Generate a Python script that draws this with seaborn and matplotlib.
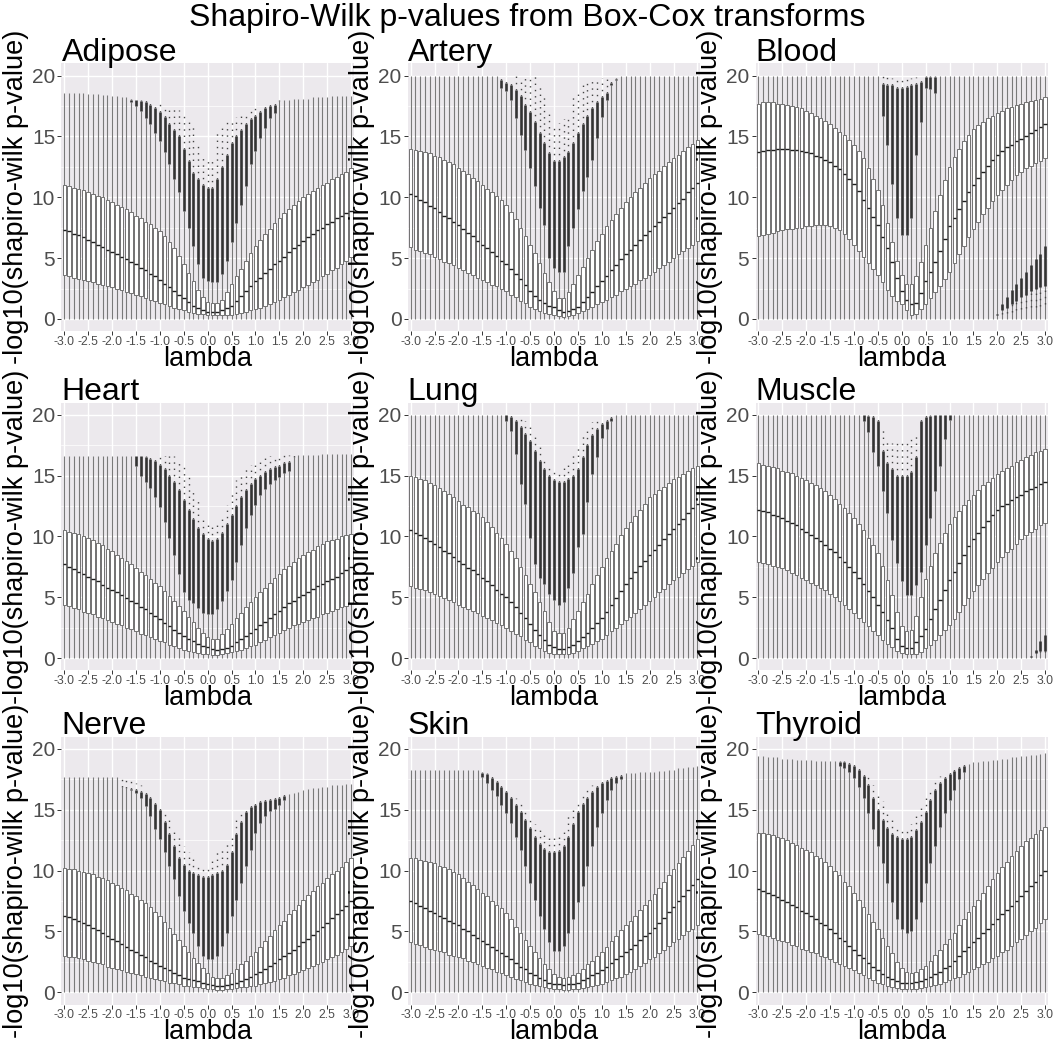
import numpy as np
import pandas as pd
import matplotlib
matplotlib.use("Agg")
import matplotlib.pyplot as plt
import seaborn as sns

# ---------------------------------------------------------------------------
# Box-Cox lambda grid and labelled breaks
# ---------------------------------------------------------------------------
LAMBDAS = ["-3.0", "-2.9", "-2.8", "-2.7", "-2.6", "-2.5", "-2.4", "-2.3", "-2.2", "-2.1",
           "-2.0", "-1.9", "-1.8", "-1.7", "-1.6", "-1.5", "-1.4", "-1.3", "-1.2", "-1.1",
           "-1.0", "-0.9", "-0.8", "-0.7", "-0.6", "-0.5", "-0.4", "-0.3", "-0.2", "-0.1",
           "0.0", "0.1", "0.2", "0.3", "0.4", "0.5", "0.6", "0.7", "0.8", "0.9",
           "1.0", "1.1", "1.2", "1.3", "1.4", "1.5", "1.6", "1.7", "1.8", "1.9",
           "2.0", "2.1", "2.2", "2.3", "2.4", "2.5", "2.6", "2.7", "2.8", "2.9", "3.0"]
TICK_LABELS = ["-3.0", "-2.5", "-2.0", "-1.5", "-1.0", "-0.5", "0.0",
               "0.5", "1.0", "1.5", "2.0", "2.5", "3.0"]
TISSUES = ["Adipose", "Artery", "Blood", "Heart", "Lung", "Muscle", "Nerve", "Skin", "Thyroid"]

# ---------------------------------------------------------------------------
# Per-tissue summaries of -log10(Shapiro-Wilk p) at each lambda
#   Q1 / MED / Q3 : box hinges and median
#   TOP           : largest value (whisker end, or highest outlier)
#   OUT_*         : upper outlier run (start lambda, lowest outlier, top of dense run)
#   LOW_*         : lower outlier run (start lambda, min, start of dense run, max)
# ---------------------------------------------------------------------------
ADIPOSE_Q1 = [3.6, 3.5, 3.4, 3.3, 3.2, 3.1, 3.0, 2.9, 2.8, 2.7, 2.6,
              2.5, 2.4, 2.2, 2.1, 2.0, 1.9, 1.7, 1.6, 1.5, 1.3,
              1.2, 1.1, 0.9, 0.8, 0.7, 0.6, 0.5, 0.45, 0.4, 0.35,
              0.3, 0.3, 0.3, 0.35, 0.35, 0.4, 0.5, 0.6, 0.7, 0.8,
              0.9, 1.1, 1.2, 1.4, 1.6, 1.8, 2.0, 2.2, 2.4, 2.6,
              2.8, 3.0, 3.2, 3.5, 3.7, 4.0, 4.2, 4.5, 4.8, 5.1]
ADIPOSE_MED = [7.3, 7.2, 7.0, 6.9, 6.7, 6.5, 6.3, 6.1, 5.9, 5.7, 5.5,
               5.3, 5.1, 4.9, 4.7, 4.5, 4.2, 4.0, 3.7, 3.5, 3.2,
               2.9, 2.6, 2.3, 2.0, 1.7, 1.4, 1.1, 0.9, 0.7, 0.6,
               0.55, 0.55, 0.7, 0.9, 1.1, 1.5, 1.9, 2.3, 2.7, 3.1,
               3.4, 3.8, 4.1, 4.5, 4.8, 5.1, 5.5, 5.8, 6.1, 6.4,
               6.7, 7.0, 7.3, 7.5, 7.8, 8.0, 8.3, 8.5, 8.7, 8.9]
ADIPOSE_Q3 = [11.0, 10.9, 10.8, 10.7, 10.6, 10.4, 10.3, 10.1, 10.0, 9.8, 9.6,
              9.4, 9.2, 9.0, 8.8, 8.5, 8.3, 8.0, 7.8, 7.5, 7.2,
              6.8, 6.3, 5.8, 5.2, 4.5, 3.8, 3.1, 2.4, 1.8, 1.4,
              1.3, 1.3, 1.6, 2.2, 2.9, 3.5, 4.1, 4.8, 5.4, 6.0,
              6.5, 7.0, 7.4, 7.9, 8.3, 8.7, 9.0, 9.4, 9.7, 10.0,
              10.3, 10.5, 10.8, 11.0, 11.2, 11.5, 11.7, 11.9, 12.1, 12.4]
ADIPOSE_TOP = [18.6, 18.6, 18.6, 18.6, 18.6, 18.5, 18.5, 18.5, 18.4, 18.4, 18.3,
               18.3, 18.2, 18.2, 18.1, 18.0, 18.0, 18.0, 17.9, 17.8, 17.7,
               17.6, 17.5, 17.4, 17.2, 17.0, 16.5, 15.8, 14.5, 13.5, 13.2,
               13.0, 15.4, 16.0, 16.2, 16.4, 16.6, 16.8, 17.0, 17.2, 17.3,
               17.5, 17.6, 17.8, 17.9, 18.0, 18.0, 18.0, 18.1, 18.1, 18.1,
               18.1, 18.2, 18.2, 18.2, 18.2, 18.3, 18.3, 18.3, 18.3, 18.3]
ADIPOSE_OUT_START = "-1.6"
ADIPOSE_OUT_LO = [17.8, 17.5, 17.1, 16.5, 16.0, 15.3, 14.6, 13.7, 12.7, 11.5, 10.4, 8.9, 7.5, 6.0,
                  4.5, 3.4, 3.1, 3.0, 3.0, 3.7, 4.8, 6.3, 7.9, 9.4, 10.9, 12.7, 13.8, 14.9,
                  15.7, 16.5, 16.9, 17.9]
ADIPOSE_OUT_DENSE = [18.0, 18.0, 17.9, 17.8, 17.6, 17.3, 17.0, 16.6, 16.0, 15.5, 15.0, 14.0, 13.0,
                     12.0, 11.5, 11.0, 10.8, 10.8, 11.5, 12.5, 13.5, 14.5, 15.0, 15.5, 16.0, 16.4,
                     16.7, 17.0, 17.3, 17.5, 17.6, 17.9]

ARTERY_Q1 = [5.9, 5.7, 5.6, 5.4, 5.3, 5.1, 4.9, 4.7, 4.6, 4.4, 4.2,
             4.0, 3.8, 3.6, 3.4, 3.2, 3.0, 2.8, 2.7, 2.5, 2.3,
             2.0, 1.8, 1.5, 1.3, 1.0, 0.8, 0.65, 0.5, 0.4, 0.35,
             0.25, 0.2, 0.25, 0.35, 0.5, 0.65, 0.8, 1.0, 1.2, 1.4,
             1.6, 1.8, 2.0, 2.3, 2.5, 2.7, 2.9, 3.2, 3.4, 3.6,
             3.9, 4.2, 4.4, 4.7, 5.0, 5.3, 5.6, 5.8, 6.1, 6.4]
ARTERY_MED = [10.3, 10.1, 9.8, 9.6, 9.3, 9.1, 8.8, 8.5, 8.3, 8.0, 7.7,
              7.4, 7.1, 6.8, 6.4, 6.1, 5.8, 5.5, 5.2, 4.8, 4.5,
              4.1, 3.7, 3.3, 2.8, 2.3, 1.9, 1.6, 1.3, 1.1, 1.0,
              0.7, 0.6, 0.65, 0.8, 1.0, 1.4, 1.8, 2.2, 2.7, 3.1,
              3.5, 4.0, 4.4, 4.9, 5.3, 5.7, 6.1, 6.5, 6.9, 7.2,
              7.6, 8.0, 8.4, 8.7, 9.1, 9.5, 9.9, 10.4, 10.8, 11.2]
ARTERY_Q3 = [14.0, 13.9, 13.8, 13.7, 13.6, 13.4, 13.3, 13.1, 12.9, 12.7, 12.4,
             12.2, 11.9, 11.6, 11.3, 11.0, 10.7, 10.4, 10.1, 9.8, 9.4,
             8.8, 8.2, 7.5, 6.8, 6.1, 5.4, 4.6, 3.8, 3.0, 2.3,
             1.7, 1.7, 2.2, 2.9, 3.6, 4.3, 5.0, 5.7, 6.4, 7.0,
             7.6, 8.1, 8.6, 9.1, 9.6, 10.0, 10.4, 10.8, 11.2, 11.6,
             11.9, 12.2, 12.6, 12.9, 13.2, 13.5, 13.8, 14.1, 14.4, 14.7]
ARTERY_TOP = ([20.0] * 19
              + [19.8, 19.7, 19.6, 20.0, 19.8, 20.0, 19.8, 20.0, 19.4, 18.5, 17.2, 16.0, 16.1,
                 16.4, 16.6, 18.2, 18.8, 19.4, 19.6, 19.8, 19.8, 19.8, 19.8, 19.8, 19.8]
              + [20.0] * 17)
ARTERY_OUT_START = "-1.1"
ARTERY_OUT_LO = [19.0, 18.7, 18.0, 16.5, 15.1, 13.9, 12.4, 10.9, 9.1, 7.7, 5.0, 4.2, 3.9, 3.9,
                 6.0, 7.5, 9.0, 10.5, 11.7, 13.1, 14.9, 16.6, 18.0, 19.2, 19.6]
ARTERY_OUT_DENSE = [19.6, 19.4, 19.2, 18.8, 18.3, 17.6, 17.0, 16.2, 15.3, 14.5, 13.6, 13.0, 13.0,
                    13.3, 13.7, 14.5, 15.3, 16.0, 16.7, 17.3, 17.8, 18.2, 18.6, 19.4, 19.7]

BLOOD_Q1 = [6.8, 6.9, 7.0, 7.1, 7.2, 7.3, 7.4, 7.4, 7.5, 7.5, 7.6,
            7.6, 7.7, 7.7, 7.7, 7.6, 7.5, 7.3, 7.0, 6.6, 6.1,
            5.6, 5.1, 4.6, 4.1, 3.6, 3.0, 2.4, 1.9, 1.5, 1.2,
            0.7, 0.35, 0.4, 0.8, 1.2, 1.7, 2.2, 2.7, 3.3, 3.9,
            4.6, 5.3, 6.0, 6.7, 7.4, 8.0, 8.6, 9.1, 9.7, 10.2,
            10.6, 11.0, 11.4, 11.8, 12.1, 12.4, 12.6, 12.8, 13.0, 13.2]
BLOOD_MED = [13.7, 13.8, 13.9, 13.9, 14.0, 14.0, 14.0, 13.9, 13.9, 13.8, 13.7,
             13.6, 13.4, 13.3, 13.1, 12.9, 12.6, 12.3, 11.9, 11.5, 11.1,
             10.5, 9.8, 9.1, 8.4, 7.7, 6.7, 5.8, 4.7, 3.4, 2.3,
             1.6, 1.2, 1.3, 2.1, 3.1, 3.9, 4.7, 5.6, 6.6, 7.6,
             8.3, 9.0, 9.7, 10.4, 11.0, 11.6, 12.1, 12.6, 13.1, 13.5,
             13.8, 14.1, 14.3, 14.6, 14.8, 15.0, 15.3, 15.5, 15.8, 16.0]
BLOOD_Q3 = [17.7, 17.8, 17.8, 17.8, 17.7, 17.7, 17.6, 17.5, 17.4, 17.3, 17.1,
            16.9, 16.7, 16.5, 16.3, 16.0, 15.7, 15.4, 15.1, 14.7, 14.3,
            13.8, 13.2, 12.4, 11.5, 10.6, 9.4, 7.9, 6.3, 4.8, 3.6,
            2.9, 2.9, 3.5, 4.7, 6.1, 7.5, 8.9, 10.2, 11.4, 12.5,
            13.3, 14.0, 14.6, 15.1, 15.6, 15.9, 16.2, 16.5, 16.7, 16.9,
            17.1, 17.3, 17.4, 17.6, 17.7, 17.8, 17.9, 18.0, 18.1, 18.2]
BLOOD_TOP = ([20.0] * 26
             + [20.0, 19.9, 19.8, 19.7, 19.7, 19.7, 19.8, 19.9, 20.0, 20.0, 20.0, 20.0]
             + [20.0] * 23)
BLOOD_OUT_START = "-0.4"
BLOOD_OUT_LO = [16.7, 14.3, 11.1, 8.3, 6.9, 6.9, 8.3, 13.5, 16.2, 19.0, 18.9, 18.6]
BLOOD_OUT_DENSE = [19.3, 19.2, 19.2, 19.0, 19.0, 19.1, 19.2, 19.3, 19.5, 19.9, 19.9, 19.9]
BLOOD_LOW_START = "2.0"
BLOOD_LOW_MIN = [0.3, 0.4, 0.5, 0.6, 0.7, 0.8, 0.9, 1.0, 1.0, 1.1, 1.2]
BLOOD_LOW_DENSE = [0.3, 0.7, 0.9, 1.2, 1.5, 1.8, 2.0, 2.3, 2.5, 2.6, 2.7]
BLOOD_LOW_MAX = [0.4, 1.2, 1.8, 2.4, 2.9, 3.4, 3.9, 4.4, 4.9, 5.3, 6.0]

HEART_Q1 = [4.4, 4.3, 4.1, 4.0, 3.8, 3.7, 3.6, 3.4, 3.3, 3.1, 3.0,
            2.8, 2.7, 2.5, 2.4, 2.2, 2.0, 1.9, 1.7, 1.6, 1.4,
            1.3, 1.1, 1.0, 0.8, 0.7, 0.6, 0.5, 0.4, 0.35, 0.3,
            0.27, 0.27, 0.3, 0.4, 0.5, 0.6, 0.7, 0.85, 1.0, 1.1,
            1.3, 1.5, 1.7, 1.9, 2.1, 2.3, 2.5, 2.7, 2.8, 3.0,
            3.1, 3.3, 3.4, 3.6, 3.7, 3.9, 4.0, 4.2, 4.3, 4.5]
HEART_MED = [7.7, 7.5, 7.3, 7.1, 6.9, 6.7, 6.5, 6.3, 6.0, 5.8, 5.6,
             5.4, 5.2, 4.9, 4.7, 4.5, 4.2, 4.0, 3.7, 3.5, 3.2,
             2.9, 2.6, 2.3, 2.1, 1.8, 1.6, 1.4, 1.2, 1.0, 0.9,
             0.75, 0.7, 0.75, 0.85, 1.0, 1.3, 1.6, 1.8, 2.1, 2.4,
             2.7, 3.0, 3.3, 3.6, 3.9, 4.2, 4.5, 4.7, 5.0, 5.2,
             5.4, 5.7, 5.9, 6.1, 6.3, 6.5, 6.7, 7.0, 7.2, 7.5]
HEART_Q3 = [10.5, 10.4, 10.3, 10.2, 10.0, 9.9, 9.7, 9.5, 9.3, 9.0, 8.8,
            8.5, 8.2, 8.0, 7.7, 7.4, 7.1, 6.8, 6.5, 6.2, 5.9,
            5.5, 5.1, 4.7, 4.3, 3.9, 3.4, 3.0, 2.5, 2.1, 1.7,
            1.6, 1.6, 2.0, 2.4, 2.8, 3.3, 3.7, 4.2, 4.6, 5.0,
            5.4, 5.8, 6.2, 6.6, 6.9, 7.3, 7.6, 7.9, 8.2, 8.5,
            8.7, 8.9, 9.2, 9.4, 9.6, 9.7, 9.8, 10.0, 10.1, 10.2]
HEART_TOP = ([16.6] * 15
             + [16.6] * 9
             + [16.4, 15.8, 15.0, 14.0, 12.9, 11.4, 11.0, 10.8, 11.0, 11.6, 12.6, 13.8, 14.6,
                15.3, 15.6, 15.9, 16.1, 16.3, 16.5, 16.6, 16.6, 16.7, 16.7, 16.7, 16.7]
             + [16.7, 16.7, 16.7, 16.7, 16.7, 16.8, 16.8, 16.8, 16.8, 16.8, 16.8, 16.8])
HEART_OUT_START = "-1.5"
HEART_OUT_LO = [15.8, 15.0, 14.5, 14.0, 13.2, 12.4, 11.2, 9.9, 8.5, 6.9, 5.4, 4.8, 4.5, 4.1,
                3.7, 3.6, 3.6, 4.0, 4.7, 5.5, 6.4, 7.9, 9.3, 10.7, 11.8, 12.6, 13.4, 13.9,
                14.3, 14.6, 14.9, 15.2, 15.4, 16.5]
HEART_OUT_DENSE = [16.6, 16.6, 16.5, 16.4, 16.2, 15.9, 15.5, 15.0, 14.5, 13.8, 13.0, 12.2, 11.4,
                   10.7, 10.2, 9.8, 9.6, 9.8, 10.3, 11.0, 11.8, 12.5, 13.2, 13.8, 14.3, 14.7,
                   15.0, 15.3, 15.5, 15.7, 15.8, 16.0, 16.1, 16.5]

LUNG_Q1 = [5.9, 5.8, 5.7, 5.6, 5.4, 5.3, 5.1, 4.9, 4.8, 4.6, 4.4,
           4.2, 4.0, 3.9, 3.7, 3.5, 3.3, 3.1, 2.9, 2.7, 2.5,
           2.2, 2.0, 1.8, 1.5, 1.3, 1.0, 0.8, 0.6, 0.45, 0.3,
           0.3, 0.3, 0.35, 0.45, 0.6, 0.8, 1.0, 1.2, 1.4, 1.6,
           1.9, 2.2, 2.5, 2.8, 3.1, 3.4, 3.7, 4.0, 4.4, 4.7,
           5.0, 5.4, 5.7, 6.1, 6.4, 6.7, 7.0, 7.3, 7.6, 7.9]
LUNG_MED = [10.5, 10.3, 10.1, 9.9, 9.6, 9.4, 9.1, 8.8, 8.6, 8.3, 8.0,
            7.7, 7.4, 7.2, 6.9, 6.6, 6.3, 6.0, 5.6, 5.3, 5.0,
            4.6, 4.2, 3.7, 3.3, 2.8, 2.3, 1.9, 1.5, 1.1, 0.9,
            0.75, 0.75, 0.9, 1.1, 1.4, 1.7, 2.1, 2.5, 2.9, 3.3,
            3.8, 4.4, 4.9, 5.5, 6.1, 6.6, 7.1, 7.6, 8.0, 8.5,
            8.9, 9.3, 9.8, 10.2, 10.6, 11.0, 11.4, 11.9, 12.3, 12.7]
LUNG_Q3 = [15.0, 14.9, 14.7, 14.6, 14.4, 14.2, 14.0, 13.7, 13.5, 13.2, 12.9,
           12.6, 12.4, 12.1, 11.9, 11.6, 11.2, 10.8, 10.3, 9.9, 9.4,
           8.8, 8.2, 7.5, 6.8, 6.1, 5.4, 4.6, 3.9, 3.0, 2.2,
           2.1, 2.1, 2.5, 3.2, 3.9, 4.6, 5.3, 6.1, 6.8, 7.5,
           8.2, 8.8, 9.4, 10.1, 10.7, 11.2, 11.7, 12.2, 12.7, 13.2,
           13.5, 13.8, 14.1, 14.4, 14.7, 14.9, 15.1, 15.4, 15.6, 15.8]
LUNG_TOP = ([20.0] * 20
            + [20.0, 20.0, 20.0, 19.8, 19.5, 19.0, 18.2, 17.5, 16.5, 15.8, 15.4, 15.3, 15.6,
               16.0, 16.8, 17.6, 18.5, 19.0, 19.4, 19.6, 19.7, 19.8, 19.9]
            + [20.0] * 18)
LUNG_OUT_START = "-1.0"
LUNG_OUT_LO = [19.5, 18.7, 16.8, 14.3, 12.7, 9.9, 7.7, 6.6, 6.1, 5.3, 4.8, 4.4, 4.6, 5.8, 7.0,
               9.1, 10.2, 12.8, 15.1, 16.5, 18.1, 18.8, 19.5]
LUNG_OUT_DENSE = [20.0, 19.8, 19.5, 19.0, 18.4, 17.8, 17.0, 16.2, 15.5, 15.0, 14.6, 14.5, 14.5,
                  14.7, 15.0, 15.5, 16.5, 17.5, 18.3, 18.8, 19.2, 19.5, 19.7]

MUSCLE_Q1 = [7.9, 7.8, 7.7, 7.6, 7.5, 7.4, 7.2, 7.0, 6.8, 6.6, 6.4,
             6.2, 6.0, 5.8, 5.6, 5.3, 5.0, 4.7, 4.4, 4.0, 3.7,
             3.3, 3.0, 2.6, 2.2, 1.9, 1.5, 1.2, 0.9, 0.6, 0.4,
             0.3, 0.3, 0.35, 0.5, 0.8, 1.1, 1.5, 1.9, 2.3, 2.7,
             3.2, 3.8, 4.4, 4.9, 5.5, 6.0, 6.5, 7.0, 7.4, 7.9,
             8.3, 8.7, 9.0, 9.4, 9.8, 10.1, 10.4, 10.6, 10.9, 11.1]
MUSCLE_MED = [12.2, 12.1, 12.0, 11.8, 11.7, 11.5, 11.3, 11.1, 10.9, 10.6, 10.4,
              10.1, 9.9, 9.6, 9.3, 9.0, 8.7, 8.3, 7.9, 7.5, 7.1,
              6.6, 6.1, 5.5, 5.0, 4.4, 3.8, 3.1, 2.5, 1.6, 1.0,
              0.8, 0.8, 1.3, 1.8, 2.4, 3.2, 4.0, 4.8, 5.6, 6.4,
              7.1, 7.8, 8.5, 9.2, 9.8, 10.3, 10.8, 11.3, 11.8, 12.2,
              12.5, 12.7, 13.0, 13.2, 13.4, 13.7, 13.9, 14.1, 14.3, 14.5]
MUSCLE_Q3 = [16.0, 15.9, 15.8, 15.7, 15.6, 15.4, 15.3, 15.2, 15.0, 14.8, 14.6,
             14.4, 14.2, 14.0, 13.7, 13.4, 13.1, 12.7, 12.3, 11.9, 11.5,
             11.0, 10.5, 9.9, 9.3, 8.6, 7.6, 6.4, 5.2, 3.8, 2.6,
             2.2, 2.3, 3.5, 5.0, 6.5, 7.6, 8.6, 9.5, 10.3, 11.0,
             11.6, 12.1, 12.6, 13.0, 13.4, 13.8, 14.2, 14.5, 14.8, 15.1,
             15.4, 15.6, 15.8, 16.1, 16.3, 16.5, 16.7, 16.9, 17.0, 17.2]
MUSCLE_TOP = ([20.0] * 22
              + [20.0, 20.0, 20.0, 19.8, 18.8, 18.0, 17.7, 17.8, 17.9, 17.9, 18.0, 18.5, 20.0,
                 20.0, 20.0, 20.0, 20.0, 20.0, 20.0]
              + [20.0] * 20)
MUSCLE_OUT_START = "-0.8"
MUSCLE_OUT_LO = [19.5, 18.6, 16.9, 15.8, 13.7, 11.9, 9.7, 7.8, 6.3, 5.2, 5.2, 6.0, 7.1, 9.3,
                 11.5, 13.7, 15.8, 18.0, 19.6]
MUSCLE_OUT_DENSE = [20.0, 19.9, 19.8, 19.5, 17.0, 16.0, 15.5, 15.0, 15.0, 15.0, 15.3, 16.5, 19.5,
                    19.8, 19.9, 20.0, 20.0, 20.0, 20.0]
MUSCLE_LOW_START = "2.7"
MUSCLE_LOW_MIN = [0.1, 0.4, 0.5, 0.5]
MUSCLE_LOW_DENSE = [0.1, 0.4, 0.6, 0.6]
MUSCLE_LOW_MAX = [0.2, 0.7, 1.4, 1.9]

NERVE_Q1 = [3.0, 2.9, 2.9, 2.8, 2.7, 2.6, 2.5, 2.4, 2.3, 2.1, 2.0,
            1.9, 1.8, 1.7, 1.6, 1.5, 1.4, 1.3, 1.2, 1.1, 1.0,
            0.9, 0.8, 0.75, 0.65, 0.55, 0.5, 0.45, 0.4, 0.35, 0.3,
            0.25, 0.2, 0.2, 0.25, 0.3, 0.35, 0.4, 0.45, 0.5, 0.55,
            0.65, 0.75, 0.85, 0.95, 1.1, 1.2, 1.4, 1.5, 1.7, 1.8,
            2.0, 2.2, 2.3, 2.5, 2.7, 2.9, 3.1, 3.3, 3.6, 3.8]
NERVE_MED = [6.3, 6.2, 6.0, 5.9, 5.7, 5.5, 5.3, 5.1, 4.9, 4.6, 4.4,
             4.2, 4.0, 3.7, 3.5, 3.3, 3.1, 2.9, 2.6, 2.4, 2.2,
             2.0, 1.8, 1.6, 1.4, 1.2, 1.1, 1.0, 0.9, 0.8, 0.7,
             0.6, 0.55, 0.55, 0.6, 0.7, 0.8, 0.95, 1.1, 1.3, 1.5,
             1.7, 1.9, 2.2, 2.4, 2.7, 3.0, 3.2, 3.5, 3.8, 4.1,
             4.4, 4.7, 5.0, 5.4, 5.7, 6.1, 6.4, 6.8, 7.1, 7.5]
NERVE_Q3 = [10.2, 10.1, 10.1, 10.0, 9.9, 9.8, 9.7, 9.5, 9.4, 9.2, 9.0,
            8.8, 8.6, 8.4, 8.1, 7.9, 7.6, 7.3, 7.0, 6.6, 6.3,
            5.8, 5.3, 4.8, 4.3, 3.8, 3.3, 2.8, 2.4, 2.0, 1.6,
            1.3, 1.2, 1.2, 1.4, 1.6, 1.9, 2.3, 2.6, 3.0, 3.3,
            3.7, 4.2, 4.6, 5.1, 5.5, 5.9, 6.4, 6.8, 7.2, 7.6,
            8.0, 8.3, 8.7, 9.0, 9.4, 9.7, 10.0, 10.3, 10.7, 11.0]
NERVE_TOP = ([17.7] * 12
             + [17.7, 17.6, 17.5, 17.2, 17.0, 16.8, 16.5, 16.0, 15.5, 15.0, 14.2, 13.5, 12.7,
                12.0, 11.5, 11.0, 10.5, 10.3, 10.5, 11.0, 11.5, 11.8, 12.3, 13.0, 14.5, 15.0,
                15.3, 15.5, 15.7, 15.8, 15.9, 16.0, 16.1, 16.2, 16.3]
             + [16.3, 16.4, 16.5, 16.6, 16.7, 16.8, 16.8, 16.9, 16.9, 17.0, 17.0, 17.0, 17.1, 17.1])
NERVE_OUT_START = "-1.8"
NERVE_OUT_LO = [16.9, 16.8, 16.6, 16.4, 16.0, 15.3, 14.5, 13.4, 12.6, 11.5, 10.4, 9.3, 7.9, 6.7,
                5.7, 4.9, 3.8, 3.0, 2.7, 2.7, 3.0, 3.8, 4.9, 6.3, 7.6, 9.0, 10.4, 11.7, 13.1,
                13.9, 14.5, 14.9, 15.1, 15.4, 15.8]
NERVE_OUT_DENSE = [16.9, 16.8, 16.7, 16.6, 16.5, 16.3, 16.0, 15.5, 15.0, 14.0, 13.0, 12.0, 11.0,
                   10.5, 10.0, 9.8, 9.6, 9.5, 9.5, 9.6, 9.8, 10.0, 10.5, 11.5, 13.0, 14.0, 14.8,
                   15.2, 15.4, 15.6, 15.7, 15.8, 15.9, 16.0, 16.1]

SKIN_Q1 = [4.1, 4.0, 3.9, 3.7, 3.6, 3.5, 3.4, 3.3, 3.1, 3.0, 2.9,
           2.8, 2.6, 2.5, 2.3, 2.2, 2.0, 1.9, 1.7, 1.6, 1.4,
           1.3, 1.1, 1.0, 0.85, 0.7, 0.6, 0.5, 0.4, 0.35, 0.3,
           0.25, 0.2, 0.2, 0.25, 0.3, 0.35, 0.45, 0.5, 0.6, 0.7,
           0.85, 1.0, 1.15, 1.3, 1.5, 1.7, 1.9, 2.2, 2.4, 2.7,
           2.9, 3.2, 3.5, 3.8, 4.1, 4.4, 4.7, 5.0, 5.2, 5.5]
SKIN_MED = [7.5, 7.3, 7.1, 6.9, 6.7, 6.5, 6.3, 6.1, 5.9, 5.7, 5.5,
            5.2, 5.0, 4.7, 4.5, 4.2, 4.0, 3.7, 3.5, 3.2, 3.0,
            2.7, 2.4, 2.1, 1.9, 1.6, 1.4, 1.2, 1.0, 0.8, 0.7,
            0.65, 0.6, 0.65, 0.7, 0.8, 1.0, 1.2, 1.4, 1.6, 1.8,
            2.1, 2.4, 2.7, 3.0, 3.3, 3.6, 3.9, 4.3, 4.6, 4.9,
            5.3, 5.7, 6.1, 6.6, 7.0, 7.5, 7.9, 8.4, 8.8, 9.3]
SKIN_Q3 = [11.0, 11.0, 10.9, 10.8, 10.7, 10.6, 10.4, 10.3, 10.1, 9.9, 9.7,
           9.4, 9.1, 8.8, 8.5, 8.2, 7.9, 7.5, 7.2, 6.9, 6.5,
           6.0, 5.4, 4.9, 4.3, 3.8, 3.3, 2.8, 2.3, 1.9, 1.5,
           1.3, 1.2, 1.3, 1.4, 1.6, 1.9, 2.3, 2.6, 3.0, 3.3,
           3.7, 4.2, 4.6, 5.1, 5.5, 5.9, 6.3, 6.8, 7.2, 7.6,
           8.1, 8.6, 9.1, 9.6, 10.1, 10.6, 11.1, 11.6, 12.1, 12.6]
SKIN_TOP = ([18.3] * 15
            + [18.1, 18.0, 17.8, 17.5, 17.2, 16.9, 16.5, 16.0, 15.5, 15.0, 14.4, 13.8, 13.3,
               13.0, 12.8, 12.9, 13.0, 13.4, 14.5, 15.3, 15.8, 16.2, 16.6, 17.0, 17.3, 17.5,
               17.6, 17.8, 17.9, 17.9]
            + [18.0, 18.0, 18.0, 18.1, 18.1, 18.1, 18.1, 18.2, 18.2, 18.3, 18.3, 18.4, 18.4,
               18.5, 18.5, 18.6])
SKIN_OUT_START = "-1.5"
SKIN_OUT_LO = [17.7, 17.2, 16.6, 16.1, 15.4, 14.7, 13.9, 12.8, 11.7, 10.4, 9.0, 7.6, 6.3, 5.2,
               4.1, 3.4, 3.4, 3.8, 4.9, 6.0, 7.4, 8.7, 10.4, 12.0, 13.6, 14.7, 15.8, 16.6,
               17.2, 17.5]
SKIN_OUT_DENSE = [18.0, 17.9, 17.6, 17.3, 16.9, 16.5, 16.0, 15.4, 14.8, 14.2, 13.5, 12.8, 12.2,
                  11.8, 11.5, 11.5, 11.6, 12.0, 12.8, 13.8, 14.8, 15.5, 16.0, 16.5, 16.9, 17.2,
                  17.4, 17.6, 17.7, 17.8]

THYROID_Q1 = [4.8, 4.7, 4.6, 4.5, 4.3, 4.2, 4.1, 3.9, 3.8, 3.6, 3.5,
              3.3, 3.2, 3.0, 2.9, 2.7, 2.5, 2.3, 2.2, 2.0, 1.8,
              1.6, 1.4, 1.2, 1.0, 0.8, 0.7, 0.55, 0.45, 0.35, 0.3,
              0.3, 0.3, 0.3, 0.35, 0.4, 0.5, 0.6, 0.7, 0.85, 1.0,
              1.15, 1.3, 1.5, 1.7, 1.9, 2.1, 2.3, 2.5, 2.8, 3.0,
              3.3, 3.5, 3.8, 4.1, 4.4, 4.7, 5.0, 5.3, 5.7, 6.0]
THYROID_MED = [8.5, 8.3, 8.2, 8.0, 7.8, 7.6, 7.4, 7.2, 7.0, 6.7, 6.5,
               6.3, 6.0, 5.7, 5.5, 5.2, 4.9, 4.5, 4.2, 3.8, 3.5,
               3.1, 2.8, 2.4, 2.1, 1.8, 1.5, 1.3, 1.1, 0.9, 0.8,
               0.8, 0.8, 0.85, 0.95, 1.1, 1.3, 1.5, 1.7, 2.0, 2.2,
               2.6, 3.0, 3.4, 3.7, 4.1, 4.5, 4.9, 5.2, 5.6, 6.0,
               6.4, 6.8, 7.1, 7.5, 7.9, 8.3, 8.7, 9.1, 9.6, 10.0]
THYROID_Q3 = [13.1, 13.1, 13.0, 12.9, 12.8, 12.7, 12.5, 12.3, 12.1, 11.9, 11.7,
              11.5, 11.2, 11.0, 10.7, 10.4, 10.0, 9.6, 9.1, 8.7, 8.2,
              7.6, 7.0, 6.4, 5.8, 5.2, 4.5, 3.8, 3.2, 2.5, 2.0,
              1.7, 1.6, 1.7, 1.9, 2.2, 2.6, 3.1, 3.5, 4.0, 4.4,
              4.9, 5.5, 6.0, 6.6, 7.1, 7.6, 8.2, 8.7, 9.3, 9.8,
              10.3, 10.7, 11.2, 11.6, 12.0, 12.4, 12.7, 13.0, 13.3, 13.6]
THYROID_TOP = ([19.4, 19.4, 19.3, 19.3, 19.3, 19.2, 19.2, 19.2, 19.1, 19.1, 19.1, 19.1, 19.0,
                19.0, 19.0, 19.0, 19.0]
               + [19.0, 19.0, 18.9, 18.8, 18.6, 18.3, 17.8, 17.0, 16.3, 15.7, 15.0, 14.3, 13.7,
                  13.4, 13.4, 13.8, 14.5, 15.3, 16.0, 16.8, 17.4, 17.8, 18.1, 18.3, 18.5, 18.6,
                  18.8]
               + [18.8, 18.9, 18.9, 19.0, 19.0, 19.1, 19.1, 19.2, 19.2, 19.3, 19.3, 19.4, 19.4,
                  19.5, 19.5, 19.6, 19.7])
THYROID_OUT_START = "-1.3"
THYROID_OUT_LO = [18.6, 18.4, 18.1, 17.6, 16.9, 16.0, 14.7, 13.4, 12.0, 10.6, 9.0, 7.4, 6.0, 5.2,
                  4.9, 5.0, 6.0, 7.4, 9.0, 10.6, 12.0, 13.6, 14.7, 15.8, 16.6, 17.5, 18.1]
THYROID_OUT_DENSE = [18.9, 18.9, 18.8, 18.6, 18.3, 17.8, 17.0, 16.0, 15.0, 14.2, 13.5, 13.0, 12.8,
                     12.6, 12.6, 12.8, 13.3, 14.0, 14.8, 15.8, 16.6, 17.2, 17.6, 17.9, 18.2, 18.4,
                     18.6]

PANELS = {
    "Adipose": dict(q1=ADIPOSE_Q1, med=ADIPOSE_MED, q3=ADIPOSE_Q3, top=ADIPOSE_TOP,
                    out=(ADIPOSE_OUT_START, ADIPOSE_OUT_LO, ADIPOSE_OUT_DENSE)),
    "Artery": dict(q1=ARTERY_Q1, med=ARTERY_MED, q3=ARTERY_Q3, top=ARTERY_TOP,
                   out=(ARTERY_OUT_START, ARTERY_OUT_LO, ARTERY_OUT_DENSE)),
    "Blood": dict(q1=BLOOD_Q1, med=BLOOD_MED, q3=BLOOD_Q3, top=BLOOD_TOP,
                  out=(BLOOD_OUT_START, BLOOD_OUT_LO, BLOOD_OUT_DENSE),
                  low=(BLOOD_LOW_START, BLOOD_LOW_MIN, BLOOD_LOW_DENSE, BLOOD_LOW_MAX)),
    "Heart": dict(q1=HEART_Q1, med=HEART_MED, q3=HEART_Q3, top=HEART_TOP,
                  out=(HEART_OUT_START, HEART_OUT_LO, HEART_OUT_DENSE)),
    "Lung": dict(q1=LUNG_Q1, med=LUNG_MED, q3=LUNG_Q3, top=LUNG_TOP,
                 out=(LUNG_OUT_START, LUNG_OUT_LO, LUNG_OUT_DENSE)),
    "Muscle": dict(q1=MUSCLE_Q1, med=MUSCLE_MED, q3=MUSCLE_Q3, top=MUSCLE_TOP,
                   out=(MUSCLE_OUT_START, MUSCLE_OUT_LO, MUSCLE_OUT_DENSE),
                   low=(MUSCLE_LOW_START, MUSCLE_LOW_MIN, MUSCLE_LOW_DENSE, MUSCLE_LOW_MAX)),
    "Nerve": dict(q1=NERVE_Q1, med=NERVE_MED, q3=NERVE_Q3, top=NERVE_TOP,
                  out=(NERVE_OUT_START, NERVE_OUT_LO, NERVE_OUT_DENSE)),
    "Skin": dict(q1=SKIN_Q1, med=SKIN_MED, q3=SKIN_Q3, top=SKIN_TOP,
                 out=(SKIN_OUT_START, SKIN_OUT_LO, SKIN_OUT_DENSE)),
    "Thyroid": dict(q1=THYROID_Q1, med=THYROID_MED, q3=THYROID_Q3, top=THYROID_TOP,
                    out=(THYROID_OUT_START, THYROID_OUT_LO, THYROID_OUT_DENSE)),
}

# ---------------------------------------------------------------------------
# Styling (ggplot-like grey panels)
# ---------------------------------------------------------------------------
sns.set_theme(style="darkgrid")
plt.rcParams["font.family"] = ["Liberation Sans", "DejaVu Sans"]
plt.rcParams["text.color"] = "black"
plt.rcParams["axes.labelcolor"] = "black"

PANEL_BG = "#ECE9ED"
BOX_EDGE = "#5c5c5c"
WHISKER = "#7a7a7a"
MEDIAN = "#1c1c1c"
OUTLIER = "#333333"
TICK_TEXT = "#4D4D4D"

fig = plt.figure(figsize=(10.54, 10.48), dpi=100)
fig.patch.set_facecolor("white")

col_left = [0.0583, 0.3869, 0.7168]
row_bottom = [0.6840, 0.3604, 0.0415]
ax_w, ax_h = 0.2775, 0.2555

pos = {lam: i for i, lam in enumerate(LAMBDAS)}

for k, tissue in enumerate(TISSUES):
    p = PANELS[tissue]
    r, c = divmod(k, 3)
    ax = fig.add_axes([col_left[c], row_bottom[r], ax_w, ax_h])
    ax.set_facecolor(PANEL_BG)

    out_start, out_lo, out_dense = p["out"]
    s = pos[out_start]
    whisker_hi = list(p["top"])
    for j, v in enumerate(out_lo):
        whisker_hi[s + j] = v

    # five summary values per lambda -> seaborn box with whiskers at min / max
    rows = []
    for i, lam in enumerate(LAMBDAS):
        for v in (0.0, p["q1"][i], p["med"][i], p["q3"][i], whisker_hi[i]):
            rows.append((lam, v))
    df = pd.DataFrame(rows, columns=["lambda", "value"])

    sns.boxplot(data=df, x="lambda", y="value", order=LAMBDAS, ax=ax,
                whis=(0, 100), width=0.75, color="white", linecolor=BOX_EDGE,
                linewidth=0.6, showfliers=False, showcaps=False,
                whiskerprops=dict(color=WHISKER, linewidth=0.8),
                medianprops=dict(color=MEDIAN, linewidth=1.0),
                boxprops=dict(facecolor="white", edgecolor=BOX_EDGE, linewidth=0.6))

    # upper outlier runs: solid where dense, sparse dots up to the highest point
    xs = np.arange(s, s + len(out_lo))
    tops = np.array(p["top"])[s:s + len(out_lo)]
    ax.vlines(xs, out_lo, out_dense, color=OUTLIER, linewidth=1.9, zorder=5)
    ax.vlines(xs, out_dense, tops, color="#444444", linewidth=1.0,
              linestyles=(0, (1.0, 3.5)), zorder=5)

    # lower outlier runs
    if "low" in p:
        ls, lmin, ldense, lmax = p["low"]
        xl = np.arange(pos[ls], pos[ls] + len(lmin))
        ax.vlines(xl, ldense, lmax, color=OUTLIER, linewidth=1.9, zorder=5)
        ax.vlines(xl, lmin, ldense, color="#444444", linewidth=1.0,
                  linestyles=(0, (1.0, 3.5)), zorder=5)

    ax.set_xlim(-0.6, len(LAMBDAS) - 1 + 0.6)
    ax.set_ylim(-1.0, 21.0)
    ax.set_xticks([pos[t] for t in TICK_LABELS])
    ax.set_xticklabels(TICK_LABELS)
    ax.set_yticks([0, 5, 10, 15, 20])
    ax.set_yticks([2.5, 7.5, 12.5, 17.5], minor=True)
    ax.grid(True, which="major", color="white", linewidth=1.0)
    ax.grid(True, which="minor", axis="y", color="white", linewidth=0.5)
    ax.set_axisbelow(True)
    for sp in ax.spines.values():
        sp.set_visible(False)
    ax.tick_params(axis="x", which="major", labelsize=8.8, colors="#333333",
                   labelcolor=TICK_TEXT, length=3, width=0.7, pad=0.5, bottom=True)
    ax.tick_params(axis="y", which="major", labelsize=15, colors="#333333",
                   labelcolor=TICK_TEXT, length=3, width=0.7, pad=1.5, left=True)
    ax.tick_params(axis="y", which="minor", length=0, left=False)

    ax.set_xlabel("lambda", fontsize=19.5, color="black", labelpad=-1.5)
    ax.set_ylabel("-log10(shapiro-wilk p-value)", fontsize=19.5, color="black", labelpad=2)
    ax.set_title(tissue, loc="left", fontsize=23, color="black", pad=2)

fig.suptitle("Shapiro-Wilk p-values from Box-Cox transforms", fontsize=23, color="black",
             y=0.997, va="top")

fig.savefig("out.png", dpi=100, facecolor="white")
